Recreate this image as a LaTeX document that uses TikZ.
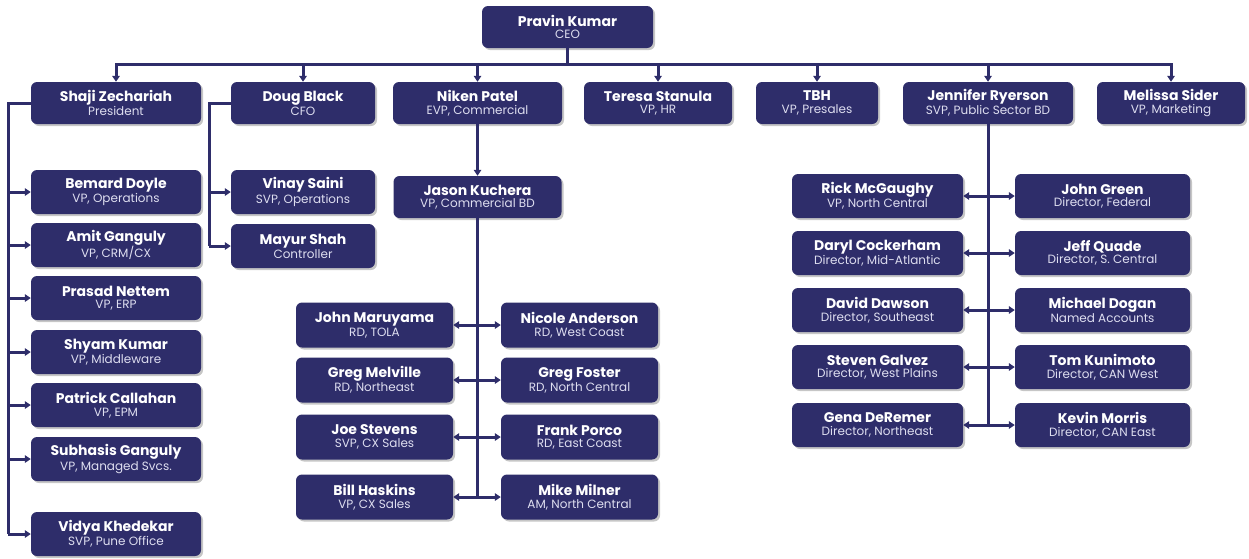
\documentclass[tikz,border=0pt]{standalone}
\usepackage{fontspec}
\setmainfont{Poppins}
\usetikzlibrary{arrows.meta,shadows}
\definecolor{navy}{RGB}{46,45,106}
\definecolor{sub}{RGB}{222,222,240}
\newcommand{\who}[2]{{\bfseries\fontsize{14}{16}\selectfont #1}\\[0.5pt]{\fontsize{12}{14}\selectfont\color{sub}#2}}
\begin{document}
\begin{tikzpicture}[x=1pt,y=-1pt,
    box/.style={fill=navy, rounded corners=6pt, text=white, align=center, inner sep=0pt,
      drop shadow={shadow xshift=2pt,shadow yshift=-2pt,fill=black!50,opacity=0.45}},
    link/.style={draw=navy, line width=3pt},
    >={Triangle[length=6pt,width=7.5pt]}]
  \useasboundingbox (0,0) rectangle (1249,558);
  \node[box, minimum width=171pt, minimum height=42pt] (pravin) at (567.5,27) {\who{Pravin Kumar}{CEO}};
  \foreach \n/\x/\w/\nm/\ti in {shaji/116/170/Shaji Zechariah/President, doug/303/144/Doug Black/CFO,
            niken/477.5/169/Niken Patel/{EVP, Commercial}, teresa/658/148/Teresa Stanula/{VP, HR},
            tbh/817/122/TBH/{VP, Presales}, jennifer/988/170/Jennifer Ryerson/{SVP, Public Sector BD},
            melissa/1171/148/Melissa Sider/{VP, Marketing}}
    \node[box, minimum width=\w pt, minimum height=42pt] (\n) at (\x,103) {\who{\nm}{\ti}};
  \foreach \n/\y/\nm/\ti in {bernard/192/Bemard Doyle/{VP, Operations}, amit/245/Amit Ganguly/{VP, CRM/CX},
            prasad/298/Prasad Nettem/{VP, ERP}, shyam/352/Shyam Kumar/{VP, Middleware},
            patrick/405/Patrick Callahan/{VP, EPM}, subhasis/459/Subhasis Ganguly/{VP, Managed Svcs.},
            vidya/534/Vidya Khedekar/{SVP, Pune Office}}
    \node[box, minimum width=170pt, minimum height=44pt] (\n) at (116,\y) {\who{\nm}{\ti}};
  \foreach \n/\y/\nm/\ti in {vinay/192/Vinay Saini/{SVP, Operations}, mayur/246/Mayur Shah/Controller}
    \node[box, minimum width=144pt, minimum height=44pt] (\n) at (303,\y) {\who{\nm}{\ti}};
  \node[box, minimum width=168pt, minimum height=42pt] (jason) at (477.5,197) {\who{Jason Kuchera}{VP, Commercial BD}};
  \foreach \y/\l/\lnm/\lti/\r/\rnm/\rti in {325/john/John Maruyama/{RD, TOLA}/nicole/Nicole Anderson/{RD, West Coast},
            380/gregm/Greg Melville/{RD, Northeast}/gregf/Greg Foster/{RD, North Central},
            437/joe/Joe Stevens/{SVP, CX Sales}/frank/Frank Porco/{RD, East Coast},
            497/bill/Bill Haskins/{VP, CX Sales}/mike/Mike Milner/{AM, North Central}}
  {
    \node[box, minimum width=157pt, minimum height=45pt] (\l) at (374.5,\y) {\who{\lnm}{\lti}};
    \node[box, minimum width=157pt, minimum height=45pt] (\r) at (579.5,\y) {\who{\rnm}{\rti}};
    \draw[link,<->] (\l) -- (\r);
  }
  \foreach \y/\l/\lnm/\lti/\r/\rnm/\rti in {196/rick/Rick McGaughy/{VP, North Central}/johng/John Green/{Director, Federal},
            253/daryl/Daryl Cockerham/{Director, Mid-Atlantic}/jeff/Jeff Quade/{Director, S. Central},
            310/david/David Dawson/{Director, Southeast}/michael/Michael Dogan/Named Accounts,
            367/steven/Steven Galvez/{Director, West Plains}/tom/Tom Kunimoto/{Director, CAN West},
            425/gena/Gena DeRemer/{Director, Northeast}/kevin/Kevin Morris/{Director, CAN East}}
  {
    \node[box, minimum width=171pt, minimum height=44pt] (\l) at (877.5,\y) {\who{\lnm}{\lti}};
    \node[box, minimum width=175pt, minimum height=44pt] (\r) at (1102.5,\y) {\who{\rnm}{\rti}};
    \draw[link,<->] (\l) -- (\r);
  }
  \coordinate (bus) at (0,64);
  \coordinate (sspine) at (8,0);
  \coordinate (dspine) at (209,0);
  \draw[link] (pravin.south) -- (pravin.south |- bus);
  \draw[link, line cap=rect] (shaji |- bus) -- (melissa |- bus);
  \foreach \n in {shaji,doug,niken,teresa,tbh,jennifer,melissa}
    \draw[link,->] (\n |- bus) -- (\n.north);
  \draw[link] (shaji.west) -| (sspine |- vidya.west);
  \foreach \n in {bernard,amit,prasad,shyam,patrick,subhasis,vidya}
    \draw[link,->] (sspine |- \n.west) -- (\n.west);
  \draw[link] (doug.west) -| (dspine |- mayur.west);
  \foreach \n in {vinay,mayur}
    \draw[link,->] (dspine |- \n.west) -- (\n.west);
  \draw[link,->] (niken) -- (jason);
  \draw[link] (jason.south) -- (jason.south |- bill.east);
  \draw[link] (jennifer.south) -- (jennifer.south |- gena.east);
\end{tikzpicture}
\end{document}
